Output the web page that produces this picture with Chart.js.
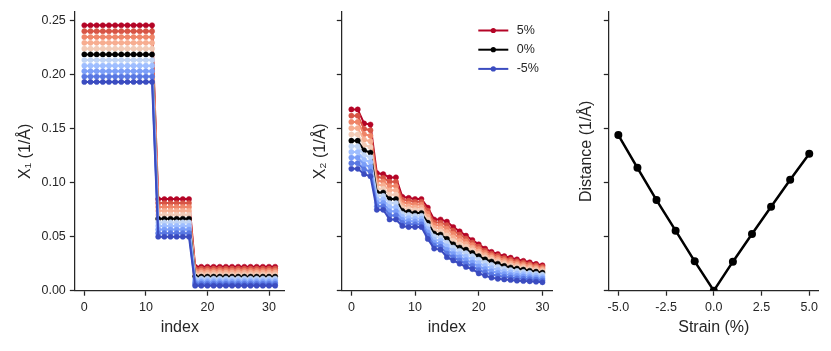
<!DOCTYPE html>
<html>
<head>
<meta charset="utf-8">
<script src="https://cdn.jsdelivr.net/npm/chart.js@4.4.1/dist/chart.umd.min.js"></script>
<style>
  html, body { margin: 0; padding: 0; background: #ffffff; }
  #wrap { position: relative; width: 831px; height: 351px; background: #ffffff; }
  canvas { position: absolute; top: 0; }
</style>
</head>
<body>
<div id="wrap">
  <canvas id="c1" width="290" height="351" style="left:0px"></canvas>
  <canvas id="c2" width="270" height="351" style="left:290px"></canvas>
  <canvas id="c3" width="271" height="351" style="left:560px"></canvas>
</div>
<script>
// ---------------- data ----------------
const strains = [5, 4, 3, 2, 1, 0, -1, -2, -3, -4, -5];
const indexX1 = [0,1,2,3,4,5,6,7,8,9,10,11,12,13,14,15,16,17,18,19,20,21,22,23,24,25,26,27,28,29,30,31];
const indexX2 = [0,1,2,3,4,5,6,7,8,9,10,11,12,13,14,15,16,17,18,19,20,21,22,23,24,25,26,27,28,29,30];

// X1 per strain (index 0..31)
const x1P5 = [0.246,0.246,0.246,0.246,0.246,0.246,0.246,0.246,0.246,0.246,0.246,0.246,0.0849,0.0849,0.0849,0.0849,0.0849,0.0849,0.0222,0.0222,0.0222,0.0222,0.0222,0.0222,0.0222,0.0222,0.0222,0.0222,0.0222,0.0222,0.0222,0.0222];
const x1P4 = [0.2405,0.2405,0.2405,0.2405,0.2405,0.2405,0.2405,0.2405,0.2405,0.2405,0.2405,0.2405,0.0813,0.0813,0.0813,0.0813,0.0813,0.0813,0.0204,0.0204,0.0204,0.0204,0.0204,0.0204,0.0204,0.0204,0.0204,0.0204,0.0204,0.0204,0.0204,0.0204];
const x1P3 = [0.2351,0.2351,0.2351,0.2351,0.2351,0.2351,0.2351,0.2351,0.2351,0.2351,0.2351,0.2351,0.0776,0.0776,0.0776,0.0776,0.0776,0.0776,0.0185,0.0185,0.0185,0.0185,0.0185,0.0185,0.0185,0.0185,0.0185,0.0185,0.0185,0.0185,0.0185,0.0185];
const x1P2 = [0.2297,0.2297,0.2297,0.2297,0.2297,0.2297,0.2297,0.2297,0.2297,0.2297,0.2297,0.2297,0.0740,0.0740,0.0740,0.0740,0.0740,0.0740,0.0167,0.0167,0.0167,0.0167,0.0167,0.0167,0.0167,0.0167,0.0167,0.0167,0.0167,0.0167,0.0167,0.0167];
const x1P1 = [0.2243,0.2243,0.2243,0.2243,0.2243,0.2243,0.2243,0.2243,0.2243,0.2243,0.2243,0.2243,0.0703,0.0703,0.0703,0.0703,0.0703,0.0703,0.0148,0.0148,0.0148,0.0148,0.0148,0.0148,0.0148,0.0148,0.0148,0.0148,0.0148,0.0148,0.0148,0.0148];
const x1Z0 = [0.2190,0.2190,0.2190,0.2190,0.2190,0.2190,0.2190,0.2190,0.2190,0.2190,0.2190,0.2190,0.0667,0.0667,0.0667,0.0667,0.0667,0.0667,0.0130,0.0130,0.0130,0.0130,0.0130,0.0130,0.0130,0.0130,0.0130,0.0130,0.0130,0.0130,0.0130,0.0130];
const x1M1 = [0.2138,0.2138,0.2138,0.2138,0.2138,0.2138,0.2138,0.2138,0.2138,0.2138,0.2138,0.2138,0.0633,0.0633,0.0633,0.0633,0.0633,0.0633,0.0113,0.0113,0.0113,0.0113,0.0113,0.0113,0.0113,0.0113,0.0113,0.0113,0.0113,0.0113,0.0113,0.0113];
const x1M2 = [0.2086,0.2086,0.2086,0.2086,0.2086,0.2086,0.2086,0.2086,0.2086,0.2086,0.2086,0.2086,0.0600,0.0600,0.0600,0.0600,0.0600,0.0600,0.0097,0.0097,0.0097,0.0097,0.0097,0.0097,0.0097,0.0097,0.0097,0.0097,0.0097,0.0097,0.0097,0.0097];
const x1M3 = [0.2035,0.2035,0.2035,0.2035,0.2035,0.2035,0.2035,0.2035,0.2035,0.2035,0.2035,0.2035,0.0567,0.0567,0.0567,0.0567,0.0567,0.0567,0.0080,0.0080,0.0080,0.0080,0.0080,0.0080,0.0080,0.0080,0.0080,0.0080,0.0080,0.0080,0.0080,0.0080];
const x1M4 = [0.1985,0.1985,0.1985,0.1985,0.1985,0.1985,0.1985,0.1985,0.1985,0.1985,0.1985,0.1985,0.0533,0.0533,0.0533,0.0533,0.0533,0.0533,0.0063,0.0063,0.0063,0.0063,0.0063,0.0063,0.0063,0.0063,0.0063,0.0063,0.0063,0.0063,0.0063,0.0063];
const x1M5 = [0.1935,0.1935,0.1935,0.1935,0.1935,0.1935,0.1935,0.1935,0.1935,0.1935,0.1935,0.1935,0.0500,0.0500,0.0500,0.0500,0.0500,0.0500,0.0046,0.0046,0.0046,0.0046,0.0046,0.0046,0.0046,0.0046,0.0046,0.0046,0.0046,0.0046,0.0046,0.0046];

// X2 per strain (index 0..30)
const x2P5 = [0.168,0.168,0.155,0.154,0.109,0.108,0.105,0.105,0.087,0.086,0.085,0.085,0.077,0.066,0.066,0.064,0.059,0.055,0.051,0.047,0.043,0.039,0.036,0.034,0.032,0.0306,0.029,0.0277,0.0263,0.0248,0.0236];
const x2P4 = [0.1622,0.1622,0.150,0.1488,0.1054,0.1046,0.101,0.101,0.0844,0.0834,0.0824,0.0824,0.0742,0.0634,0.0632,0.0608,0.0558,0.052,0.0484,0.0446,0.0408,0.037,0.0342,0.0322,0.0302,0.0288,0.0273,0.0261,0.0247,0.0234,0.0222];
const x2P3 = [0.1564,0.1564,0.145,0.1436,0.1018,0.1012,0.097,0.097,0.0818,0.0808,0.0798,0.0798,0.0714,0.0608,0.0604,0.0576,0.0526,0.049,0.0458,0.0422,0.0386,0.035,0.0324,0.0304,0.0284,0.027,0.0256,0.0244,0.0232,0.0219,0.0208];
const x2P2 = [0.1506,0.1506,0.140,0.1384,0.0982,0.0978,0.093,0.093,0.0792,0.0782,0.0772,0.0772,0.0686,0.0582,0.0576,0.0544,0.0494,0.046,0.0432,0.0398,0.0364,0.033,0.0306,0.0286,0.0266,0.0251,0.0239,0.0228,0.0216,0.0205,0.0195];
const x2P1 = [0.1448,0.1448,0.135,0.1332,0.0946,0.0944,0.089,0.089,0.0766,0.0756,0.0746,0.0746,0.0658,0.0556,0.0548,0.0512,0.0462,0.043,0.0406,0.0374,0.0342,0.031,0.0288,0.0268,0.0248,0.0233,0.0222,0.0211,0.0201,0.019,0.0181];
const x2Z0 = [0.139,0.139,0.130,0.128,0.091,0.091,0.085,0.085,0.074,0.073,0.072,0.072,0.063,0.053,0.052,0.048,0.043,0.040,0.038,0.035,0.032,0.029,0.027,0.025,0.023,0.0215,0.0205,0.0195,0.0185,0.0176,0.0167];
const x2M1 = [0.1338,0.1338,0.1256,0.1236,0.0878,0.0878,0.0812,0.0812,0.0712,0.0702,0.0694,0.0694,0.060,0.0502,0.0492,0.0446,0.040,0.037,0.0348,0.032,0.0288,0.026,0.024,0.0222,0.0205,0.0192,0.0183,0.0174,0.0165,0.0157,0.0149];
const x2M2 = [0.1286,0.1286,0.1212,0.1192,0.0846,0.0846,0.0774,0.0774,0.0684,0.0674,0.0668,0.0668,0.057,0.0474,0.0464,0.0412,0.037,0.034,0.0316,0.029,0.0256,0.023,0.021,0.0194,0.018,0.0169,0.016,0.0153,0.0146,0.0139,0.0131];
const x2M3 = [0.1234,0.1234,0.1168,0.1148,0.0814,0.0814,0.0736,0.0736,0.0656,0.0646,0.0642,0.0642,0.054,0.0446,0.0436,0.0378,0.034,0.031,0.0284,0.026,0.0224,0.020,0.018,0.0166,0.0154,0.0145,0.0138,0.0132,0.0126,0.012,0.0114];
const x2M4 = [0.1182,0.1182,0.1124,0.1104,0.0782,0.0782,0.0698,0.0698,0.0628,0.0618,0.0616,0.0616,0.051,0.0418,0.0408,0.0344,0.031,0.028,0.0252,0.023,0.0192,0.017,0.015,0.0138,0.0129,0.0122,0.0115,0.0111,0.0107,0.0102,0.0096];
const x2M5 = [0.113,0.113,0.108,0.106,0.075,0.075,0.066,0.066,0.060,0.059,0.059,0.059,0.048,0.039,0.038,0.031,0.028,0.025,0.022,0.020,0.016,0.014,0.012,0.011,0.0104,0.0099,0.0093,0.009,0.0087,0.0083,0.0078];

// distance vs strain
const strainX = [-5, -4, -3, -2, -1, 0, 1, 2, 3, 4, 5];
const distance = [0.1442, 0.1139, 0.0840, 0.0556, 0.0272, 0.0, 0.0269, 0.0525, 0.0778, 0.1028, 0.1269];

// tick labels
const yTicks = [0, 0.05, 0.10, 0.15, 0.20, 0.25];
const indexTicks = [0, 10, 20, 30];
const strainTicks = [-5, -2.5, 0, 2.5, 5];
const legendStrains = [5, 0, -5];

// ---------------- styles ----------------
const strainColors = ['#b40426', '#d75445', '#ef8568', '#f7ad90', '#f2cbb7', '#000000',
                      '#c0d4f5', '#9fbeff', '#7b9ef8', '#5978e3', '#3b4cc0'];
const x1Series = [x1P5, x1P4, x1P3, x1P2, x1P1, x1Z0, x1M1, x1M2, x1M3, x1M4, x1M5];
const x2Series = [x2P5, x2P4, x2P3, x2P2, x2P1, x2Z0, x2M1, x2M2, x2M3, x2M4, x2M5];

const FONT = '"Liberation Sans", Arial, sans-serif';
const TXT = '#262626';
const SPINE = '#262626';
const Y_MAX = 0.2583;

function makeDatasets(xs, series) {
  // draw -5% last (on top): Chart.js draws dataset index 0 on top
  const out = [];
  for (let i = strains.length - 1; i >= 0; i--) {
    out.push({
      label: strains[i] + '%',
      data: xs.map((x, k) => ({ x: x, y: series[i][k] })),
      borderColor: strainColors[i],
      backgroundColor: strainColors[i],
      pointBackgroundColor: strainColors[i],
      pointBorderColor: strainColors[i],
      borderWidth: 2,
      pointRadius: 2.6,
      pointBorderWidth: 0.5,
      tension: 0
    });
  }
  return out;
}

function fixedTicks(arr) {
  return function (scale) { scale.ticks = arr.map(v => ({ value: v })); };
}

function yScale(width, showLabels, title, titlePad) {
  return {
    type: 'linear', min: 0, max: Y_MAX,
    afterBuildTicks: fixedTicks(yTicks),
    afterFit: function (s) { s.width = width; },
    border: { display: true, color: SPINE, width: 1.25 },
    grid: { display: true, drawOnChartArea: false, drawTicks: true, tickLength: 5, tickColor: SPINE, tickWidth: 1.25 },
    ticks: { display: showLabels, padding: 4, color: TXT, font: { family: FONT, size: 12.5 },
             callback: v => Number(v).toFixed(2) },
    title: { display: true, text: title, color: TXT, font: { family: FONT, size: 16 }, padding: { top: titlePad, bottom: 0 } }
  };
}

function xScale(min, max, tickArr, fmt, title) {
  return {
    type: 'linear', min: min, max: max,
    afterBuildTicks: fixedTicks(tickArr),
    afterFit: function (s) { s.height = 60.3; },
    border: { display: true, color: SPINE, width: 1.25 },
    grid: { display: true, drawOnChartArea: false, drawTicks: true, tickLength: 5, tickColor: SPINE, tickWidth: 1.25 },
    ticks: { display: true, padding: 4, color: TXT, font: { family: FONT, size: 12.5 }, maxRotation: 0, autoSkip: false,
             callback: fmt },
    title: { display: true, text: title, color: TXT, font: { family: FONT, size: 16 }, padding: { top: 0, bottom: 13.5 } }
  };
}

const strainLegend = {
  id: 'strainLegend',
  afterDatasetsDraw(chart, args, opts) {
    if (!opts || !opts.entries) return;
    const { ctx, chartArea } = chart;
    ctx.save();
    opts.entries.forEach((s, i) => {
      const ds = chart.data.datasets.find(d => d.label === s + '%');
      if (!ds) return;
      const y = chartArea.top + opts.top + i * opts.rowGap;
      const x0 = chartArea.right - opts.right;
      const x1 = x0 + opts.lineLen;
      ctx.strokeStyle = ds.borderColor;
      ctx.lineWidth = 2;
      ctx.beginPath(); ctx.moveTo(x0, y); ctx.lineTo(x1, y); ctx.stroke();
      ctx.fillStyle = ds.borderColor;
      ctx.beginPath(); ctx.arc((x0 + x1) / 2, y, 2.6, 0, Math.PI * 2); ctx.fill();
      ctx.fillStyle = TXT;
      ctx.font = '12.5px ' + FONT;
      ctx.textBaseline = 'middle';
      ctx.textAlign = 'left';
      ctx.fillText(ds.label, x1 + opts.textGap, y);
    });
    ctx.restore();
  }
};

const common = {
  responsive: false,
  animation: false,
  devicePixelRatio: 1,
  plugins: { legend: { display: false }, tooltip: { enabled: false } }
};

// Panel 1
new Chart(document.getElementById('c1'), {
  type: 'line',
  data: { datasets: makeDatasets(indexX1, x1Series) },
  options: Object.assign({}, common, {
    layout: { padding: { top: 12, bottom: 0, left: 0, right: 5.3 } },
    scales: {
      x: xScale(-1.55, 32.55, indexTicks, v => String(v), 'index'),
      y: yScale(74.8, true, 'X\u2081 (1/\u00c5)', 15.5)
    }
  })
});

// Panel 2
new Chart(document.getElementById('c2'), {
  type: 'line',
  data: { datasets: makeDatasets(indexX2, x2Series) },
  options: Object.assign({}, common, {
    layout: { padding: { top: 12, bottom: 0, left: 0, right: 8 } },
    plugins: { legend: { display: false }, tooltip: { enabled: false },
               strainLegend: { entries: legendStrains, top: 18.5, rowGap: 19.2, right: 73.7, lineLen: 30, textGap: 8.4 } },
    scales: {
      x: xScale(-1.5, 31.5, indexTicks, v => String(v), 'index'),
      y: yScale(51.8, false, 'X\u2082 (1/\u00c5)', 20.5)
    }
  }),
  plugins: [strainLegend]
});

// Panel 3
new Chart(document.getElementById('c3'), {
  type: 'line',
  data: { datasets: [{
    label: 'Distance',
    data: strainX.map((x, k) => ({ x: x, y: distance[k] })),
    borderColor: '#000000', backgroundColor: '#000000',
    pointBackgroundColor: '#000000', pointBorderColor: '#000000',
    borderWidth: 2.5, pointRadius: 4, pointBorderWidth: 0, tension: 0
  }] },
  options: Object.assign({}, common, {
    layout: { padding: { top: 12, bottom: 0, left: 0, right: 12.2 } },
    scales: {
      x: xScale(-5.5, 5.5, strainTicks, v => Number(v).toFixed(1), 'Strain (%)'),
      y: yScale(48.8, false, 'Distance (1/\u00c5)', 17.3)
    }
  })
});
</script>
</body>
</html>
